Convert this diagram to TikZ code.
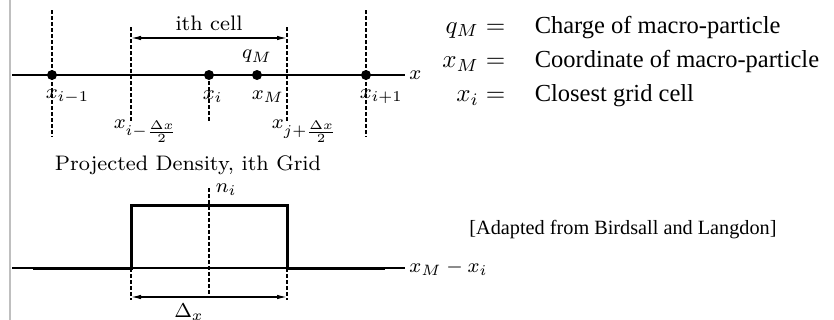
\documentclass[tikz,border=0pt]{standalone}
\usepackage{fontspec}
\newfontfamily\tiempos{Liberation Serif}
\usetikzlibrary{arrows.meta,positioning}

\begin{document}
\begin{tikzpicture}[
        x=0.4pt,
        y=-0.4pt,
        every node/.style={
            inner sep=0.5pt,
            font=\fontsize{8.4}{10}\selectfont
        },
        punto/.style={circle, fill=black, minimum size=4pt, inner sep=0pt},
        guia/.style={line width=0.5pt, dash pattern=on 1.4pt off 1pt},
        eje/.style={line width=0.45pt},
        pulso/.style={line width=1.2pt},
        cota/.style={line width=0.5pt, {Latex[length=4pt,width=1.8pt]}-{Latex[length=4pt,width=1.8pt]}},
        leyenda/.style={font=\fontsize{9.8}{12}\selectfont},
        texto/.style={font=\tiempos\fontsize{9.8}{12}\selectfont}
    ]

    \useasboundingbox (0,0) rectangle (834,320);
    \draw[black!25, line width=0.6pt] (10,0) -- (10,320);

    % Guías
    \draw[guia] (52,10)  -- (52,137);
    \draw[guia] (131,27) -- (131,122);
    \draw[guia] (209,75) -- (209,123);
    \draw[guia] (287,27) -- (287,122);
    \draw[guia] (366,10) -- (366,137);

    % Eje superior
    \coordinate (ejeA) at (12,75);
    \coordinate (ejeB) at (405,75);
    \draw[eje] (ejeA) -- (ejeB) node[right=1pt] (xlab) {$x$};

    % Puntos
    \node[punto] (pim) at (52,75)  {};
    \node[punto] (pi)  at (209,75) {};
    \node[punto] (pm)  at (257,75) {};
    \node[punto] (pip) at (366,75) {};

    \node[above=2pt of pm] (qm) {$q_M$};
    \node[anchor=west] (lim) at (44,97)  {$x_{i-1}$};
    \node[anchor=west] (li)  at (201,97) {$x_i$};
    \node[anchor=west] (lm)  at (250,97) {$x_M$};
    \node[anchor=west] (lip) at (358,97) {$x_{i+1}$};
    \node[anchor=west] (lcl) at (112,131) {$x_{i-\frac{\Delta x}{2}}$};
    \node[anchor=west] (lcr) at (270,131) {$x_{j+\frac{\Delta x}{2}}$};

    % Celda
    \coordinate (cL) at (131,38);
    \coordinate (cR) at (287,38);
    \draw[cota] (cL) -- (cR) node[midway, above=2pt] (celda) {ith cell};

    % Densidad proyectada
    \node (titulo) at (188,165) {Projected Density, ith Grid};
    \draw[guia] (209,188) -- (209,298);
    \draw[guia] (131,268) -- (131,300);
    \draw[guia] (287,268) -- (287,300);
    \draw[eje] (12,268) -- (405,268) node[right=1pt] (xdif) {$x_M - x_i$};
    \draw[pulso] (33,268) -- (131,268) -- (131,205) -- (287,205) -- (287,268) -- (385,268);
    \node[anchor=west] (ni) at (214,190) {$n_i$};

    \coordinate (dL) at (131,297);
    \coordinate (dR) at (287,297);
    \draw[cota] (dL) -- (dR);
    \node (delta) at (189,312) {$\Delta_x$};

    % Leyenda
    \node[leyenda, anchor=base east] (eq1) at (507,33)  {$q_M =$};
    \node[leyenda, anchor=base east] (eq2) at (507,68)  {$x_M =$};
    \node[leyenda, anchor=base east] (eq3) at (507,102) {$x_i =$};
    \node[texto, anchor=base west] (tx1) at (533,33)  {Charge of macro-particle};
    \node[texto, anchor=base west] (tx2) at (533,68)  {Coordinate of macro-particle};
    \node[texto, anchor=base west] (tx3) at (533,102) {Closest grid cell};

    \node[texto, font=\tiempos\fontsize{8.1}{10}\selectfont] (fuente) at (623,230) {[Adapted from Birdsall and Langdon]};

\end{tikzpicture}
\end{document}
